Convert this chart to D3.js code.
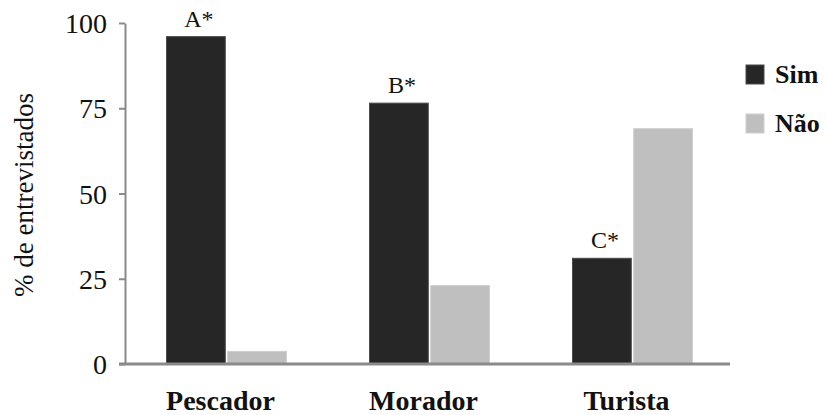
<!DOCTYPE html>
<html>
<head>
<meta charset="utf-8">
<script src="https://cdn.jsdelivr.net/npm/d3@7"></script>
<style>
html,body{margin:0;padding:0;background:#fff;overflow:hidden;}
svg{display:block;}
text{font-family:"Liberation Serif","Times New Roman",serif;fill:#111;}
</style>
</head>
<body>
<svg id="chart" width="827" height="415"></svg>
<script>
const categories = ["Pescador", "Morador", "Turista"];
const seriesNames = ["Sim", "Não"];
const simValues = [96, 76.5, 31];
const naoValues = [3.7, 23, 69];
const sigLabels = ["A*", "B*", "C*"];
const yTicks = [0, 25, 50, 75, 100];
const yTitle = "% de entrevistados";

const colors = {"Sim": "#262626", "Não": "#bfbfbf"};
const svg = d3.select("#chart");

const x = d3.scaleBand().domain(categories).range([125, 734]).padding(0);
const xs = d3.scaleBand().domain(seriesNames).range([-60, 60]).paddingInner(0.04);
const y = d3.scaleLinear().domain([0, 100]).range([364, 23]);

const data = categories.map((c, i) => ({cat: c, Sim: simValues[i], "Não": naoValues[i], sig: sigLabels[i]}));

// bars
const g = svg.append("g");
data.forEach(d => {
  const cx = x(d.cat) + x.bandwidth() / 2;
  seriesNames.forEach(s => {
    g.append("rect")
      .attr("x", cx + xs(s))
      .attr("y", y(d[s]))
      .attr("width", xs.bandwidth())
      .attr("height", y(0) - y(d[s]))
      .attr("fill", colors[s])
      .attr("stroke", s === "Sim" ? "#4a4a4a" : "#cfcfcf")
      .attr("stroke-width", 1);
  });
  g.append("text")
    .attr("x", cx + xs("Sim") + xs.bandwidth() / 2 + 3)
    .attr("y", y(d.Sim) - 10)
    .attr("text-anchor", "middle")
    .attr("font-size", 24)
    .text(d.sig);
});

// y axis
const yAxis = d3.axisLeft(y).tickValues(yTicks).tickSize(6).tickPadding(12).tickSizeOuter(0);
const ya = svg.append("g").attr("transform", "translate(125,0)").call(yAxis);
ya.select(".domain").attr("stroke", "#8a8a8a").attr("stroke-width", 2);
ya.selectAll(".tick line").attr("stroke", "#8a8a8a").attr("stroke-width", 2);
ya.selectAll(".tick text").attr("font-size", 28).attr("font-family", "Liberation Serif, serif").attr("fill", "#111").attr("dy", "0.34em");

// x axis baseline
const xAxis = d3.axisBottom(x).tickSize(0).tickPadding(46);
const xa = svg.append("g").attr("transform", `translate(0,${y(0)})`).call(xAxis);
xa.select(".domain").attr("d", `M-6,0H605`).attr("transform", "translate(125,0)").attr("stroke", "#8a8a8a").attr("stroke-width", 3);
xa.selectAll(".tick text").attr("font-size", 28).attr("font-weight", "bold").attr("font-family", "Liberation Serif, serif").attr("fill", "#111").attr("dx", "-6").attr("dy", "0");

// y title
svg.append("text")
  .attr("transform", "translate(33,195) rotate(-90)")
  .attr("text-anchor", "middle")
  .attr("font-size", 27)
  .text(yTitle);

// legend (the source image is cropped at its right side)
svg.append("clipPath").attr("id", "legclip")
  .append("rect").attr("x", 0).attr("y", 0).attr("width", 820).attr("height", 415);
const leg = svg.append("g").attr("clip-path", "url(#legclip)");
seriesNames.forEach((s, i) => {
  const ly = 65 + i * 49;
  leg.append("rect").attr("x", 746).attr("y", ly).attr("width", 18).attr("height", 19)
    .attr("fill", colors[s]).attr("stroke", s === "Sim" ? "#4a4a4a" : "#cfcfcf");
  leg.append("text").attr("x", 775).attr("y", ly + 18).attr("font-size", 26).attr("font-weight", "bold").text(s);
});
</script>
</body>
</html>
